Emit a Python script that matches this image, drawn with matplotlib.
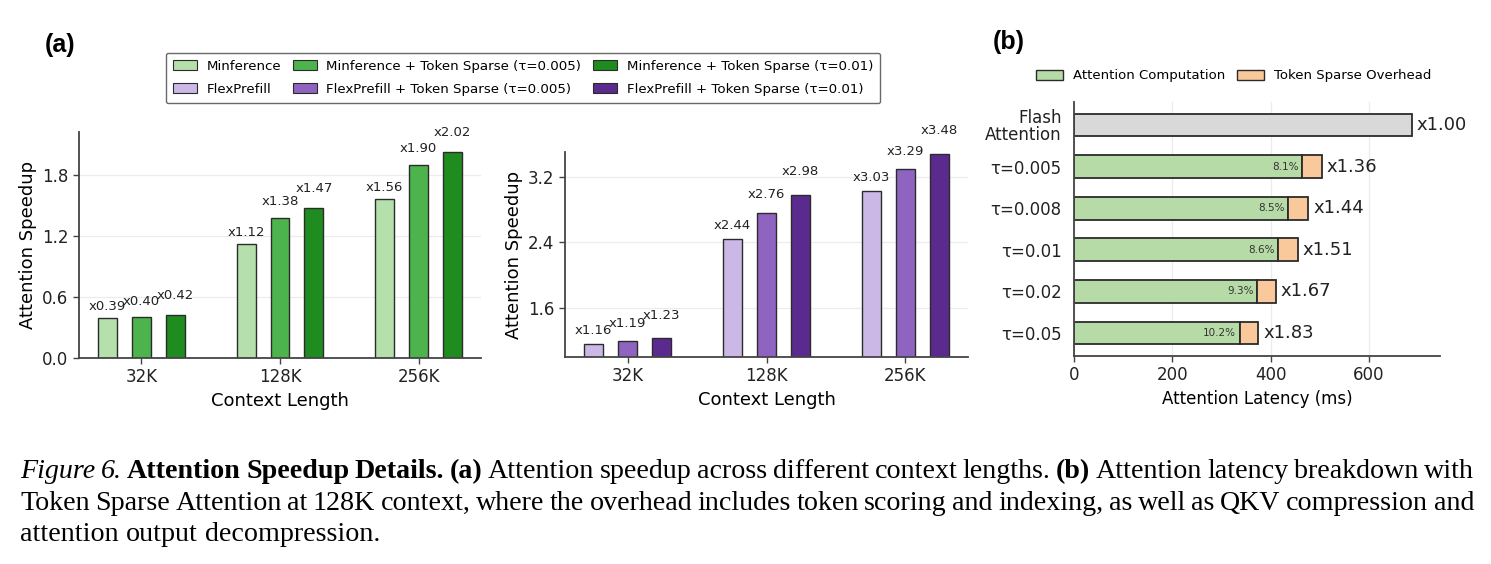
import matplotlib
matplotlib.use('Agg')
import matplotlib.pyplot as plt
import numpy as np
from matplotlib.patches import Patch

# ---------------- data ----------------
contexts = ['32K', '128K', '256K']
minference = [0.39, 1.12, 1.56]
minference_ts005 = [0.40, 1.38, 1.90]
minference_ts001 = [0.42, 1.47, 2.02]
flexprefill = [1.16, 2.44, 3.03]
flexprefill_ts005 = [1.19, 2.76, 3.29]
flexprefill_ts001 = [1.23, 2.98, 3.48]

legend_labels_a = ['Minference', 'FlexPrefill',
                   'Minference + Token Sparse (τ=0.005)', 'FlexPrefill + Token Sparse (τ=0.005)',
                   'Minference + Token Sparse (τ=0.01)', 'FlexPrefill + Token Sparse (τ=0.01)']

b_labels = ['Flash\nAttention', 'τ=0.005', 'τ=0.008', 'τ=0.01', 'τ=0.02', 'τ=0.05']
flash_latency = 687
attn_compute = [464, 436, 416, 373, 337]
sparse_overhead = [41, 41, 39, 38, 38]
overhead_pct = ['8.1%', '8.5%', '8.6%', '9.3%', '10.2%']
speedup_b = ['x1.00', 'x1.36', 'x1.44', 'x1.51', 'x1.67', 'x1.83']

# ---------------- style ----------------
plt.rcParams['font.family'] = ['DejaVu Sans']
W, H = 1491, 564
fig = plt.figure(figsize=(W / 100, H / 100), dpi=100)

def rect(l, t, r, b):
    return [l / W, 1 - b / H, (r - l) / W, (b - t) / H]

greens = ['#b5dfab', '#4db34d', '#1f8c1f']
purples = ['#cbb8e6', '#8f63c0', '#5b2a8e']
edge = '#2b2b2b'
spine_c = '#444444'
grid_c = '#ececec'

def style_axes(ax, grid_axis):
    for s in ['top', 'right']:
        ax.spines[s].set_visible(False)
    for s in ['left', 'bottom']:
        ax.spines[s].set_color(spine_c)
        ax.spines[s].set_linewidth(1.3)
    ax.grid(True, axis=grid_axis, color=grid_c, linewidth=0.9)
    ax.set_axisbelow(True)
    ax.tick_params(colors='#222222', labelsize=12, length=4, width=1, color=spine_c)

offsets = [-0.245, 0.0, 0.245]
bw = 0.137
x = np.arange(len(contexts))

def grouped(ax, series, colors, ylim, yticks, label_off):
    for i, (vals, c) in enumerate(zip(series, colors)):
        ax.bar(x + offsets[i], vals, bw, color=c, edgecolor=edge, linewidth=1.0)
        for xi, v in zip(x, vals):
            ax.annotate(f'x{v:.2f}', (xi + offsets[i], v), xytext=(0, label_off[i]),
                        textcoords='offset points', ha='center', va='center',
                        fontsize=9.5, color='#222222', annotation_clip=False)
    ax.set_xticks(x)
    ax.set_xticklabels(contexts)
    ax.set_ylim(*ylim)
    ax.set_yticks(yticks)
    ax.set_xlim(-0.45, 2.45)
    ax.set_xlabel('Context Length', fontsize=13)
    ax.set_ylabel('Attention Speedup', fontsize=13)
    style_axes(ax, 'y')

ax1 = fig.add_axes(rect(79, 132, 481, 358))
grouped(ax1, [minference, minference_ts005, minference_ts001], greens,
        (0, 2.22), [0.0, 0.6, 1.2, 1.8], [8.6, 11.5, 14.4])

ax2 = fig.add_axes(rect(565, 152, 968, 357))
grouped(ax2, [flexprefill, flexprefill_ts005, flexprefill_ts001], purples,
        (1.0, 3.5), [1.6, 2.4, 3.2], [9.7, 13.0, 16.6])

# legend (a)
handles_a = []
for g, p in zip(greens, purples):
    handles_a.append(Patch(facecolor=g, edgecolor=edge, linewidth=0.8))
    handles_a.append(Patch(facecolor=p, edgecolor=edge, linewidth=0.8))
leg = fig.legend(handles_a, legend_labels_a, ncol=3, loc='center',
                 bbox_to_anchor=(523 / W, 1 - 78 / H), fontsize=9.6,
                 frameon=True, fancybox=True, edgecolor='#444444',
                 handlelength=1.8, handleheight=0.75, columnspacing=0.9,
                 labelspacing=0.75, handletextpad=0.7, borderpad=0.55)
leg.get_frame().set_linewidth(1.0)

# ---------------- panel (b) ----------------
axb = fig.add_axes(rect(1074, 102, 1440, 356))
yb = np.arange(len(b_labels))
hb = 0.55
axb.barh(yb[0], flash_latency, hb, color='#d9d9d9', edgecolor=edge, linewidth=1.3)
axb.barh(yb[1:], attn_compute, hb, color='#b7dba7', edgecolor=edge, linewidth=1.3)
axb.barh(yb[1:], sparse_overhead, hb, left=attn_compute, color='#f9c99b',
         edgecolor=edge, linewidth=1.3)
totals = [flash_latency] + [c + o for c, o in zip(attn_compute, sparse_overhead)]
for yi, t, s in zip(yb, totals, speedup_b):
    axb.annotate(s, (t, yi), xytext=(3.5, 0), textcoords='offset points',
                 ha='left', va='center', fontsize=13, color='#222222')
for yi, c, p in zip(yb[1:], attn_compute, overhead_pct):
    axb.annotate(p, (c, yi), xytext=(-2.5, 0), textcoords='offset points',
                 ha='right', va='center', fontsize=7.5, color='#333333')
axb.set_yticks(yb)
axb.set_yticklabels(b_labels)
axb.invert_yaxis()
axb.set_xlim(0, 745)
axb.set_xticks([0, 200, 400, 600])
axb.set_xlabel('Attention Latency (ms)', fontsize=12)
style_axes(axb, 'x')
axb.tick_params(axis='y', labelsize=12, length=0, pad=9)
axb.get_yticklabels()[0].set_linespacing(0.95)

handles_b = [Patch(facecolor='#b7dba7', edgecolor=edge, linewidth=1.0),
             Patch(facecolor='#f9c99b', edgecolor=edge, linewidth=1.0)]
fig.legend(handles_b, ['Attention Computation', 'Token Sparse Overhead'], ncol=2,
           loc='center', bbox_to_anchor=(1234 / W, 1 - 76 / H), fontsize=9.5,
           frameon=False, handlelength=2.0, handleheight=0.8, columnspacing=0.9,
           handletextpad=0.8)

# panel letters
fig.text(45 / W, 1 - 45 / H, '(a)', fontsize=18, fontweight='bold',
         family='Liberation Sans', ha='left', va='center')
fig.text(993 / W, 1 - 42 / H, '(b)', fontsize=18, fontweight='bold',
         family='Liberation Sans', ha='left', va='center')

# ---------------- caption (justified) ----------------
R = 'r'; B = 'b'; I = 'i'
line1 = [('Figure', I), ('6.', I), ('Attention', B), ('Speedup', B), ('Details.', B),
         ('(a)', B)] + [(w, R) for w in 'Attention speedup across different context lengths.'.split()] + \
        [('(b)', B)] + [(w, R) for w in 'Attention latency breakdown with'.split()]
line2 = [(w, R) for w in ('Token Sparse Attention at 128K context, where the overhead includes token '
                          'scoring and indexing, as well as QKV compression and').split()]
line3 = [(w, R) for w in 'attention output decompression.'.split()]

cap_fs = 20.2
renderer = fig.canvas.get_renderer()

def make(word, st, xpix, ybase):
    kw = dict(fontsize=cap_fs, family='Liberation Serif', color='black', va='baseline', ha='left')
    if st == B:
        kw['fontweight'] = 'bold'
    if st == I:
        kw['fontstyle'] = 'italic'
    return fig.text(xpix / W, 1 - ybase / H, word, **kw)

def place_line(words, ybase, justify, x0=20, x1=1474):
    texts = [make(w, s, 0, ybase) for w, s in words]
    widths = [t.get_window_extent(renderer).width for t in texts]
    space = make('a a', R, 0, ybase)
    aa = make('aa', R, 0, ybase)
    sp = space.get_window_extent(renderer).width - aa.get_window_extent(renderer).width
    space.remove(); aa.remove()
    if justify and len(words) > 1:
        gap = (x1 - x0 - sum(widths)) / (len(words) - 1)
    else:
        gap = sp
    xp = x0
    for t, wdt in zip(texts, widths):
        t.set_x(xp / W)
        xp += wdt + gap

place_line(line1, 478, True)
place_line(line2, 510, True)
place_line(line3, 541, False)

fig.savefig('out.png', dpi=100)
